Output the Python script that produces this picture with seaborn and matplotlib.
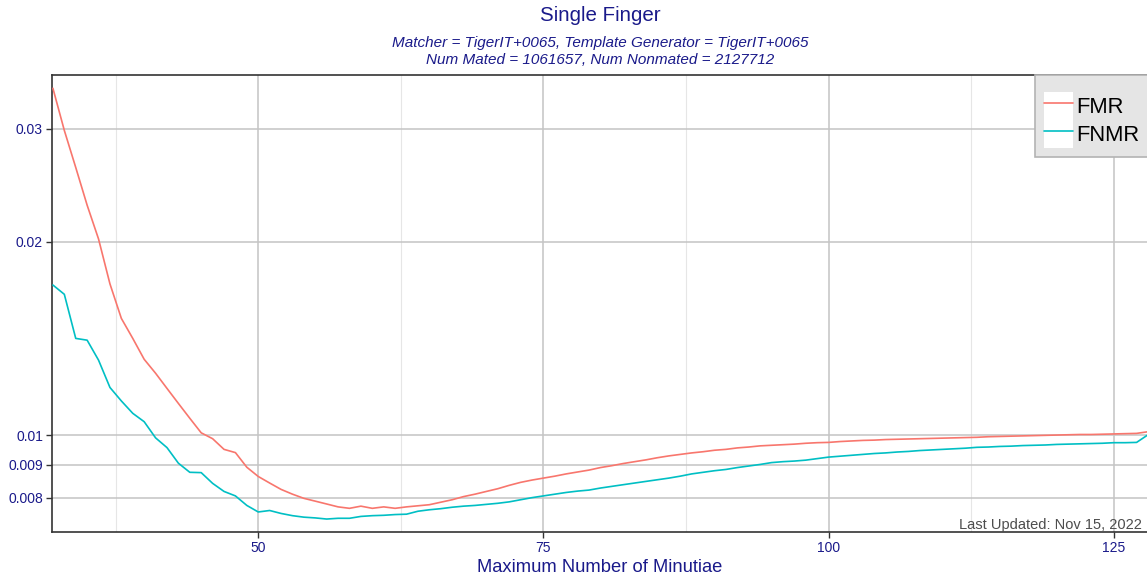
import numpy as np
import pandas as pd
import matplotlib
matplotlib.use('Agg')
import matplotlib.pyplot as plt
import seaborn as sns
from matplotlib.patches import Rectangle
from matplotlib.legend_handler import HandlerLine2D
from matplotlib.lines import Line2D
from matplotlib.ticker import NullLocator, NullFormatter

# data (x = max number of minutiae)
minutiae = list(range(32, 129))

fmr = [0.03465, 0.0298, 0.0261, 0.0228, 0.0202, 0.0172, 0.0152, 0.01415, 0.01313, 0.01249,
       0.01183, 0.01121, 0.01063, 0.01009, 0.00988, 0.00951, 0.0094, 0.00892, 0.00863, 0.00843,
       0.00824, 0.0081, 0.00798, 0.0079, 0.00782, 0.00774, 0.0077, 0.00776, 0.0077, 0.00774,
       0.0077, 0.00774, 0.00777, 0.0078, 0.00787, 0.00794, 0.00803, 0.0081, 0.00818, 0.00826,
       0.00836, 0.00845, 0.00852, 0.00858, 0.00864, 0.00871, 0.00877, 0.00883, 0.00891, 0.00897,
       0.00904, 0.0091, 0.00916, 0.00923, 0.00929, 0.00934, 0.00939, 0.00943, 0.00948, 0.00951,
       0.00956, 0.00959, 0.00963, 0.00965, 0.00967, 0.00969, 0.00972, 0.00974, 0.00975, 0.00978,
       0.0098, 0.00982, 0.00983, 0.00985, 0.00986, 0.00987, 0.00988, 0.00989, 0.0099, 0.00991,
       0.00992, 0.00993, 0.00995, 0.00996, 0.00997, 0.00998, 0.00999, 0.01, 0.01001, 0.01002,
       0.01003, 0.01003, 0.01004, 0.01005, 0.01006, 0.01007, 0.01013]

fnmr = [0.01713, 0.01657, 0.01415, 0.01406, 0.01309, 0.01187, 0.01131, 0.01082, 0.0105, 0.00991,
        0.00957, 0.00905, 0.00876, 0.00875, 0.00842, 0.00818, 0.00805, 0.00778, 0.0076, 0.00764,
        0.00756, 0.0075, 0.00746, 0.00744, 0.00741, 0.00743, 0.00743, 0.00748, 0.0075, 0.00751,
        0.00753, 0.00754, 0.00762, 0.00766, 0.00769, 0.00773, 0.00776, 0.00778, 0.00781, 0.00784,
        0.00788, 0.00794, 0.008, 0.00805, 0.0081, 0.00815, 0.00819, 0.00822, 0.00828, 0.00833,
        0.00838, 0.00843, 0.00848, 0.00853, 0.00858, 0.00864, 0.00871, 0.00876, 0.00881, 0.00885,
        0.00891, 0.00896, 0.00901, 0.00907, 0.0091, 0.00912, 0.00915, 0.0092, 0.00925, 0.00928,
        0.00931, 0.00934, 0.00937, 0.00939, 0.00942, 0.00944, 0.00947, 0.00949, 0.00951, 0.00953,
        0.00955, 0.00958, 0.00959, 0.00961, 0.00962, 0.00964, 0.00965, 0.00966, 0.00968, 0.00969,
        0.0097, 0.00971, 0.00972, 0.00974, 0.00974, 0.00975, 0.01002]

series_names = ['FMR', 'FNMR']
series_colors = ['#F8766D', '#00BFC4']
y_ticks = [0.008, 0.009, 0.01, 0.02, 0.03]
y_tick_labels = ['0.008', '0.009', '0.01', '0.02', '0.03']
x_ticks = [50, 75, 100, 125]
x_minor = [37.5, 62.5, 87.5, 112.5]

df = pd.DataFrame({
    'x': minutiae * 2,
    'rate': fmr + fnmr,
    'Metric': ['FMR'] * len(fmr) + ['FNMR'] * len(fnmr),
})

sns.set_style('white')
plt.rcParams['font.family'] = ['Liberation Sans', 'DejaVu Sans']

W, H = 1147, 578
fig = plt.figure(figsize=(W / 100, H / 100), dpi=100)
ax = fig.add_axes([52 / W, 46 / H, 1096 / W, 457 / H])

navy = '#1a1a8a'

sns.lineplot(data=df, x='x', y='rate', hue='Metric', hue_order=series_names,
             palette=dict(zip(series_names, series_colors)), linewidth=1.2,
             ax=ax, legend=False, zorder=3)

ax.set_yscale('log')
ax.set_xlim(31.92, 128.0)
ax.set_ylim(0.007074, 0.03634)
ax.set_yticks(y_ticks)
ax.set_yticklabels(y_tick_labels)
ax.yaxis.set_minor_locator(NullLocator())
ax.yaxis.set_minor_formatter(NullFormatter())
ax.set_xticks(x_ticks)
ax.set_xticklabels([str(t) for t in x_ticks])
ax.set_xticks(x_minor, minor=True)
ax.set_xlabel('')
ax.set_ylabel('')

ax.grid(True, which='major', color='#c4c4c4', linewidth=1.1, zorder=0)
ax.grid(True, which='minor', axis='x', color='#e6e6e6', linewidth=0.8, zorder=0)
ax.set_axisbelow(True)
ax.tick_params(axis='both', which='major', length=4, width=1.0, color='#333333',
               labelcolor=navy, labelsize=10, pad=2.5, direction='out',
               bottom=True, left=True)
ax.tick_params(axis='x', which='minor', length=0)
for sp in ax.spines.values():
    sp.set_color('#333333')
    sp.set_linewidth(1.2)

# titles
cx = 600 / W
fig.text(cx, 1 - 20.7 / H, 'Single Finger', ha='center', va='baseline',
         fontsize=14.8, color=navy)
fig.text(cx, 1 - 46.7 / H, 'Matcher = TigerIT+0065, Template Generator = TigerIT+0065',
         ha='center', va='baseline', fontsize=11, style='italic', color=navy)
fig.text(cx, 1 - 64.3 / H, 'Num Mated = 1061657, Num Nonmated = 2127712',
         ha='center', va='baseline', fontsize=11, style='italic', color=navy)
fig.text(cx, 1 - 571.7 / H, 'Maximum Number of Minutiae', ha='center', va='baseline',
         fontsize=13.2, color=navy)
fig.text(1141.7 / W, 1 - 529.3 / H, 'Last Updated: Nov 15, 2022', ha='right',
         va='baseline', fontsize=10.5, color='#4d4d4d')


# legend with white key background like ggplot
class KeyHandler(HandlerLine2D):
    def create_artists(self, legend, orig_handle, xdescent, ydescent, width, height,
                       fontsize, trans):
        arts = super().create_artists(legend, orig_handle, xdescent, ydescent, width,
                                      height, fontsize, trans)
        bg = Rectangle((-xdescent, -ydescent), width, height, facecolor='white',
                       edgecolor='none', transform=trans)
        return [bg] + list(arts)


handles = [Line2D([], [], color=c, linewidth=1.2) for c in series_colors]
frame = Rectangle((1035 / W, 1 - 157 / H), 200 / W, 82 / H, transform=fig.transFigure,
                  facecolor='#e5e5e5', edgecolor='#b3b3b3', linewidth=1.2, zorder=4)
fig.add_artist(frame)
leg = fig.legend(handles, series_names, loc='upper left',
                 bbox_to_anchor=(1044 / W, 1 - 92 / H), bbox_transform=fig.transFigure,
                 frameon=False, borderpad=0, borderaxespad=0, fontsize=15.8,
                 handlelength=1.31, handleheight=1.6, labelspacing=0,
                 handletextpad=0.18, labelcolor='black',
                 handler_map={Line2D: KeyHandler(marker_pad=0.14)})
leg.set_zorder(5)

fig.savefig('out.png', dpi=100)
